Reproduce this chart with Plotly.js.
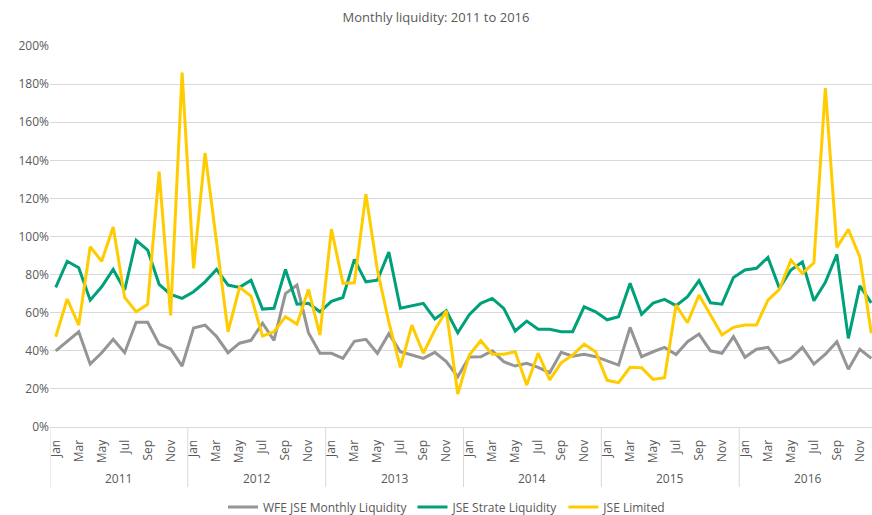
<!DOCTYPE html>
<html>
<head>
<meta charset="utf-8">
<script src="https://cdn.plot.ly/plotly-3.0.1.min.js"></script>
<style>
html,body{margin:0;padding:0;overflow:hidden;background:#fff;width:872px;height:515px;}
#chart{width:872px;height:540px;}
</style>
</head>
<body>
<div id="chart"></div>
<script>
const years = ["2011","2012","2013","2014","2015","2016"];
const months = ["Jan","Feb","Mar","Apr","May","Jun","Jul","Aug","Sep","Oct","Nov","Dec"];
const seriesNames = ["WFE JSE Monthly Liquidity","JSE Strate Liquidity","JSE Limited"];

// values in percent, Jan 2011 .. Dec 2016
const wfeJse = [
  40, 45, 50, 33, 39, 46, 39, 55, 55, 43.5, 41, 32,
  52, 53.5, 47.5, 39, 44, 45.5, 54.5, 45.5, 70, 74.5, 49.5, 38.7,
  38.7, 36, 45, 46, 38.7, 49, 39.5, 37.8, 36, 39.2, 34.3, 26.4,
  36.8, 36.9, 40, 34.3, 32, 33.4, 31.3, 28.5, 39.2, 37.2, 38.2, 36.9,
  34.6, 32.5, 52.3, 36.9, 39.5, 41.8, 38, 44.8, 48.8, 40, 38.7, 47.4,
  36.6, 40.8, 41.8, 33.7, 36, 41.8, 33, 38.2, 44.8, 30.3, 40.8, 36
];
const jseStrate = [
  73.3, 87, 83.6, 66.6, 73.6, 82.7, 71.9, 98, 92.9, 74.9, 69.6, 67.5,
  71, 76.2, 82.7, 74.5, 73.3, 77.1, 61.9, 62.3, 82.7, 64.5, 65, 60.5,
  66, 68, 88, 76.2, 77.1, 91.8, 62.3, 63.7, 64.9, 56.7, 61, 49.5,
  59, 64.9, 67.5, 62.3, 50.4, 55.6, 51.3, 51.3, 50, 50, 63.1, 60.5,
  56.3, 57.9, 75.4, 59.1, 65, 67, 63.7, 68.4, 76.8, 65.2, 64.5, 78.5,
  82.4, 83.3, 89, 72.8, 82.4, 86.7, 66.3, 75.9, 90.6, 46.5, 74.1, 65.2
];
const jseLimited = [
  47.4, 67.2, 53.5, 94.6, 87, 105, 68, 60.5, 64.4, 134, 58.6, 186,
  83.3, 143.9, 97, 50, 73.3, 68.7, 47.7, 50, 57.9, 54, 72.2, 48.3,
  103.9, 75.4, 75.7, 122.2, 82.4, 55, 31.3, 53.5, 38.7, 50.9, 61, 17.3,
  37.8, 45.3, 38.2, 38.2, 39.5, 22, 38.7, 24.7, 33.7, 37.8, 43.5, 39.5,
  24.5, 23.3, 31.3, 31.1, 25, 25.9, 64, 54.7, 69.3, 58.8, 48.3, 52.3,
  53.5, 53.5, 66.6, 72.2, 87.6, 80.6, 86.2, 177.9, 94.3, 103.7, 89.3, 49.2
];

const idx = [];
const labels = [];
years.forEach(y => months.forEach(m => { idx.push(idx.length); labels.push(m + " " + y); }));

const tickVals = [], tickText = [];
idx.forEach(i => { if (i % 2 === 0) { tickVals.push(i); tickText.push(months[i % 12]); } });

const colors = ["#959595", "#00a07a", "#ffcc00"];
const values = [wfeJse, jseStrate, jseLimited];
const traces = values.map((v, k) => ({
  type: "scatter", mode: "lines", x: idx, y: v, name: seriesNames[k],
  text: labels, line: {color: colors[k], width: 3}, hovertemplate: "%{text}: %{y}%<extra></extra>"
}));

const H = 540;
const plotH = 427 - 46;
const shapes = years.map((y, k) => ({
  type: "line", xref: "x", yref: "paper", x0: k * 12 - 0.5, x1: k * 12 - 0.5,
  y0: 0, y1: -60 / plotH, line: {color: "#d9d9d9", width: 1}
}));
const annotations = years.map((y, k) => ({
  text: y, xref: "x", yref: "paper", x: k * 12 + 5.5, y: -51 / plotH,
  showarrow: false, yanchor: "middle", font: {size: 12, color: "#595959"}
}));

const layout = {
  width: 872, height: H,
  margin: {l: 50, r: 0, t: 46, b: H - 427},
  paper_bgcolor: "#fff", plot_bgcolor: "#fff",
  font: {family: "Open Sans, sans-serif", color: "#595959", size: 12},
  title: {text: "Monthly liquidity: 2011 to 2016", x: 0.5, xref: "container", y: 1 - 17 / H, yanchor: "middle",
          font: {size: 13, color: "#595959"}},
  xaxis: {range: [-0.5, 71.06], tickvals: tickVals, ticktext: tickText, tickangle: -90, automargin: false,
          showgrid: false, zeroline: false, showline: true, linecolor: "#d9d9d9", linewidth: 1,
          ticks: "", ticklabelstandoff: 7, tickfont: {size: 12, color: "#595959"}, fixedrange: true},
  yaxis: {range: [0, 200], dtick: 20, ticksuffix: "%", gridcolor: "#d9d9d9", gridwidth: 1, automargin: false,
          zeroline: false, showline: false, ticks: "", tickfont: {size: 12, color: "#595959"}, fixedrange: true},
  showlegend: true,
  legend: {orientation: "h", x: 0.483, xanchor: "center", y: -80 / plotH, yanchor: "middle",
           font: {size: 12, color: "#595959"}, itemwidth: 30},
  shapes: shapes,
  annotations: annotations
};

Plotly.newPlot("chart", traces, layout, {displayModeBar: false, staticPlot: true});
</script>
</body>
</html>
